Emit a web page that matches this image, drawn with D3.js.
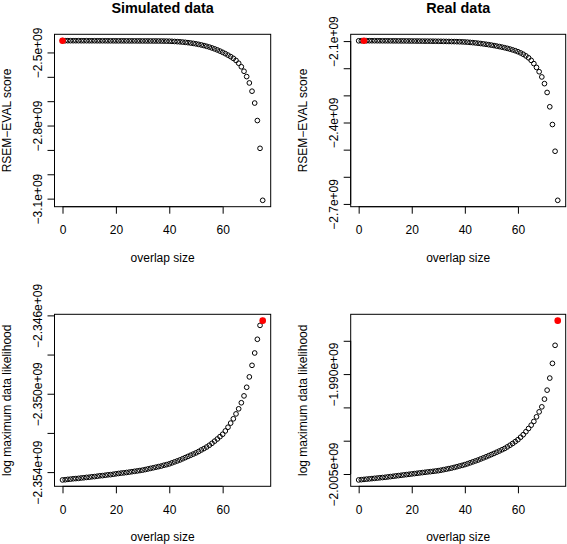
<!DOCTYPE html>
<html>
<head>
<meta charset="utf-8">
<script src="https://cdn.jsdelivr.net/npm/d3@7"></script>
<style>
  html, body { margin: 0; padding: 0; background: #fff; }
  svg { display: block; }
  text { font-family: "Liberation Sans", Arial, Helvetica, sans-serif; fill: #000; }
</style>
</head>
<body>
<svg id="chart" width="567" height="544"></svg>
<script>
// ---------------- data ----------------
const overlapSize = [0,1,2,3,4,5,6,7,8,9,10,11,12,13,14,15,16,17,18,19,20,21,22,23,24,25,26,27,28,29,30,31,32,33,34,35,36,37,38,39,40,41,42,43,44,45,46,47,48,49,50,51,52,53,54,55,56,57,58,59,60,61,62,63,64,65,66,67,68,69,70,71,72,73,74,75];

// Simulated data: RSEM-EVAL score
const simScore = [
  -2.4517e9,-2.4517e9,-2.4517e9,-2.4518e9,-2.4518e9,-2.4518e9,-2.4518e9,-2.4519e9,-2.4519e9,-2.4519e9,
  -2.4520e9,-2.4520e9,-2.4520e9,-2.4521e9,-2.4521e9,-2.4521e9,-2.4521e9,-2.4522e9,-2.4522e9,-2.4522e9,
  -2.4523e9,-2.4523e9,-2.4523e9,-2.4524e9,-2.4524e9,-2.4525e9,-2.4525e9,-2.4525e9,-2.4526e9,-2.4526e9,
  -2.4527e9,-2.4527e9,-2.4528e9,-2.4528e9,-2.4529e9,-2.4529e9,-2.4530e9,-2.4531e9,-2.4533e9,-2.4535e9,
  -2.4538e9,-2.4543e9,-2.4549e9,-2.4556e9,-2.4564e9,-2.4574e9,-2.4585e9,-2.4598e9,-2.4612e9,-2.4628e9,
  -2.4647e9,-2.4668e9,-2.4692e9,-2.4718e9,-2.4747e9,-2.4779e9,-2.4815e9,-2.4854e9,-2.4897e9,-2.4944e9,
  -2.4995e9,-2.5050e9,-2.5109e9,-2.5172e9,-2.5242e9,-2.5327e9,-2.5442e9,-2.5587e9,-2.5772e9,-2.5991e9,
  -2.6251e9,-2.6590e9,-2.7077e9,-2.7795e9,-2.8935e9,-3.1069e9
];

// Real data: RSEM-EVAL score
const realScore = [
  -2.0990e9,-2.0987e9,-2.0985e9,-2.0986e9,-2.0986e9,-2.0987e9,-2.0987e9,-2.0988e9,-2.0988e9,-2.0989e9,
  -2.0989e9,-2.0990e9,-2.0990e9,-2.0991e9,-2.0991e9,-2.0992e9,-2.0993e9,-2.0993e9,-2.0994e9,-2.0995e9,
  -2.0996e9,-2.0997e9,-2.0998e9,-2.0999e9,-2.1000e9,-2.1001e9,-2.1002e9,-2.1003e9,-2.1004e9,-2.1005e9,
  -2.1007e9,-2.1008e9,-2.1010e9,-2.1012e9,-2.1014e9,-2.1016e9,-2.1018e9,-2.1021e9,-2.1024e9,-2.1028e9,
  -2.1033e9,-2.1040e9,-2.1048e9,-2.1057e9,-2.1067e9,-2.1078e9,-2.1090e9,-2.1103e9,-2.1117e9,-2.1132e9,
  -2.1148e9,-2.1165e9,-2.1183e9,-2.1202e9,-2.1222e9,-2.1244e9,-2.1268e9,-2.1294e9,-2.1323e9,-2.1355e9,
  -2.1391e9,-2.1435e9,-2.1485e9,-2.1545e9,-2.1615e9,-2.1710e9,-2.1830e9,-2.1970e9,-2.2129e9,-2.2321e9,
  -2.2568e9,-2.2893e9,-2.3421e9,-2.4074e9,-2.5059e9,-2.6867e9
];

// Simulated data: log maximum data likelihood
const simLik = [
  -2.35440e9,-2.35439e9,-2.35437e9,-2.35436e9,-2.35434e9,-2.35433e9,-2.35432e9,-2.35430e9,-2.35429e9,-2.35427e9,
  -2.35426e9,-2.35424e9,-2.35423e9,-2.35421e9,-2.35419e9,-2.35418e9,-2.35416e9,-2.35414e9,-2.35413e9,-2.35411e9,
  -2.35409e9,-2.35407e9,-2.35405e9,-2.35404e9,-2.35402e9,-2.35400e9,-2.35398e9,-2.35396e9,-2.35394e9,-2.35392e9,
  -2.35390e9,-2.35387e9,-2.35384e9,-2.35381e9,-2.35378e9,-2.35375e9,-2.35372e9,-2.35369e9,-2.35365e9,-2.35362e9,
  -2.35358e9,-2.35353e9,-2.35348e9,-2.35343e9,-2.35338e9,-2.35332e9,-2.35326e9,-2.35320e9,-2.35314e9,-2.35308e9,
  -2.35302e9,-2.35295e9,-2.35287e9,-2.35280e9,-2.35272e9,-2.35263e9,-2.35253e9,-2.35242e9,-2.35231e9,-2.35219e9,
  -2.35207e9,-2.35190e9,-2.35171e9,-2.35150e9,-2.35128e9,-2.35103e9,-2.35077e9,-2.35046e9,-2.35011e9,-2.34967e9,
  -2.34914e9,-2.34855e9,-2.34792e9,-2.34722e9,-2.34651e9,-2.34627e9
];

// Real data: log maximum data likelihood
const realLik = [
  -2.00589e9,-2.00585e9,-2.00581e9,-2.00577e9,-2.00573e9,-2.00569e9,-2.00565e9,-2.00561e9,-2.00557e9,-2.00553e9,
  -2.00549e9,-2.00544e9,-2.00539e9,-2.00534e9,-2.00529e9,-2.00524e9,-2.00519e9,-2.00514e9,-2.00509e9,-2.00504e9,
  -2.00499e9,-2.00494e9,-2.00489e9,-2.00484e9,-2.00479e9,-2.00474e9,-2.00469e9,-2.00465e9,-2.00460e9,-2.00455e9,
  -2.00450e9,-2.00443e9,-2.00435e9,-2.00427e9,-2.00419e9,-2.00411e9,-2.00401e9,-2.00391e9,-2.00380e9,-2.00370e9,
  -2.00359e9,-2.00346e9,-2.00332e9,-2.00318e9,-2.00304e9,-2.00290e9,-2.00274e9,-2.00258e9,-2.00242e9,-2.00225e9,
  -2.00208e9,-2.00191e9,-2.00173e9,-2.00155e9,-2.00136e9,-2.00117e9,-2.00093e9,-2.00068e9,-2.00042e9,-2.00014e9,
  -1.99985e9,-1.99948e9,-1.99910e9,-1.99865e9,-1.99817e9,-1.99767e9,-1.99711e9,-1.99642e9,-1.99567e9,-1.99492e9,
  -1.99376e9,-1.99241e9,-1.99060e9,-1.98839e9,-1.98568e9,-1.98198e9
];

const titles = ["Simulated data", "Real data"];
const xLabel = "overlap size";
const yLabels = ["RSEM\u2212EVAL score", "log maximum data likelihood"];

const xTicks = [0, 20, 40, 60];
const xTickLabels = ["0", "20", "40", "60"];

const yTicksSimScore = [-2.5e9, -2.6e9, -2.7e9, -2.8e9, -2.9e9, -3.0e9, -3.1e9];
const yLabelsSimScore = ["\u22122.5e+09", "", "", "\u22122.8e+09", "", "", "\u22123.1e+09"];
const yTicksRealScore = [-2.1e9, -2.2e9, -2.3e9, -2.4e9, -2.5e9, -2.6e9, -2.7e9];
const yLabelsRealScore = ["\u22122.1e+09", "", "", "\u22122.4e+09", "", "", "\u22122.7e+09"];
const yTicksSimLik = [-2.346e9, -2.348e9, -2.350e9, -2.352e9, -2.354e9];
const yLabelsSimLik = ["\u22122.346e+09", "", "\u22122.350e+09", "", "\u22122.354e+09"];
const yTicksRealLik = [-1.985e9, -1.990e9, -1.995e9, -2.000e9, -2.005e9];
const yLabelsRealLik = ["", "\u22121.990e+09", "", "", "\u22122.005e+09"];

// ---------------- layout ----------------
const svg = d3.select("#chart");
svg.append("rect").attr("width", 567).attr("height", 544).attr("fill", "#fff");

const panels = [
  { box: {l: 54.5, r: 270.7, t: 34.3, b: 206.7}, values: simScore,  title: titles[0], ylab: yLabels[0], yt: yTicksSimScore,  yl: yLabelsSimScore },
  { box: {l: 350.7, r: 565.7, t: 34.3, b: 206.7}, values: realScore, title: titles[1], ylab: yLabels[0], yt: yTicksRealScore, yl: yLabelsRealScore },
  { box: {l: 54.5, r: 270.7, t: 314.3, b: 486.3}, values: simLik,    title: null,      ylab: yLabels[1], yt: yTicksSimLik,    yl: yLabelsSimLik },
  { box: {l: 350.7, r: 565.7, t: 314.3, b: 486.3}, values: realLik,  title: null,      ylab: yLabels[1], yt: yTicksRealLik,   yl: yLabelsRealLik }
];

function rPad(ext) {
  const d = (ext[1] - ext[0]) * 0.04;
  return [ext[0] - d, ext[1] + d];
}

panels.forEach(p => {
  const B = p.box;
  const x = d3.scaleLinear().domain(rPad(d3.extent(overlapSize))).range([B.l, B.r]);
  const y = d3.scaleLinear().domain(rPad(d3.extent(p.values))).range([B.b, B.t]);
  const g = svg.append("g");

  // x axis
  const xAxis = d3.axisBottom(x).tickValues(xTicks)
    .tickFormat((d, i) => xTickLabels[i]).tickSizeInner(7).tickSizeOuter(0);
  const gx = g.append("g").attr("transform", `translate(0,${B.b})`).call(xAxis);
  gx.select(".domain").remove();
  gx.append("line").attr("x1", x(xTicks[0])).attr("x2", x(xTicks[xTicks.length - 1]))
    .attr("stroke", "#000").attr("stroke-width", 1);
  gx.selectAll(".tick line").attr("stroke", "#000").attr("stroke-width", 1);
  gx.selectAll(".tick text").attr("y", 27.5).attr("dy", 0)
    .style("font-size", "12px").style("font-family", "'Liberation Sans', Arial, sans-serif").attr("fill", "#000");

  // y axis
  const yAxis = d3.axisLeft(y).tickValues(p.yt)
    .tickFormat((d, i) => p.yl[i]).tickSizeInner(7).tickSizeOuter(0);
  const gy = g.append("g").attr("transform", `translate(${B.l},0)`).call(yAxis);
  gy.select(".domain").remove();
  gy.append("line").attr("y1", y(p.yt[0])).attr("y2", y(p.yt[p.yt.length - 1]))
    .attr("stroke", "#000").attr("stroke-width", 1);
  gy.selectAll(".tick line").attr("stroke", "#000").attr("stroke-width", 1);
  gy.selectAll(".tick text")
    .attr("x", 0).attr("dy", 0)
    .attr("text-anchor", "middle")
    .attr("transform", "translate(-13,0) rotate(-90)")
    .style("font-size", "12px").style("font-family", "'Liberation Sans', Arial, sans-serif").attr("fill", "#000");

  // box
  g.append("rect").attr("x", B.l).attr("y", B.t)
    .attr("width", B.r - B.l).attr("height", B.b - B.t)
    .attr("fill", "none").attr("stroke", "#000").attr("stroke-width", 1);

  // points
  const best = d3.maxIndex(p.values);
  g.append("g").selectAll("circle").data(p.values).join("circle")
    .attr("cx", (d, i) => x(overlapSize[i]))
    .attr("cy", d => y(d))
    .attr("r", 2.35)
    .attr("fill", "none").attr("stroke", "#000").attr("stroke-width", 1);
  g.append("circle")
    .attr("cx", x(overlapSize[best])).attr("cy", y(p.values[best]))
    .attr("r", 3.3).attr("fill", "#ff0000");

  // labels
  const cx = (B.l + B.r) / 2, cy = (B.t + B.b) / 2;
  g.append("text").attr("x", cx).attr("y", B.b + 54.8).attr("text-anchor", "middle")
    .style("font-size", "12px").text(xLabel);
  g.append("text").attr("text-anchor", "middle")
    .attr("transform", `translate(${B.l - 43.8},${cy}) rotate(-90)`)
    .style("font-size", "12px").text(p.ylab);
  if (p.title) {
    g.append("text").attr("x", cx).attr("y", 13.2).attr("text-anchor", "middle")
      .style("font-size", "14.4px").style("font-weight", "bold").text(p.title);
  }
});
</script>
</body>
</html>
